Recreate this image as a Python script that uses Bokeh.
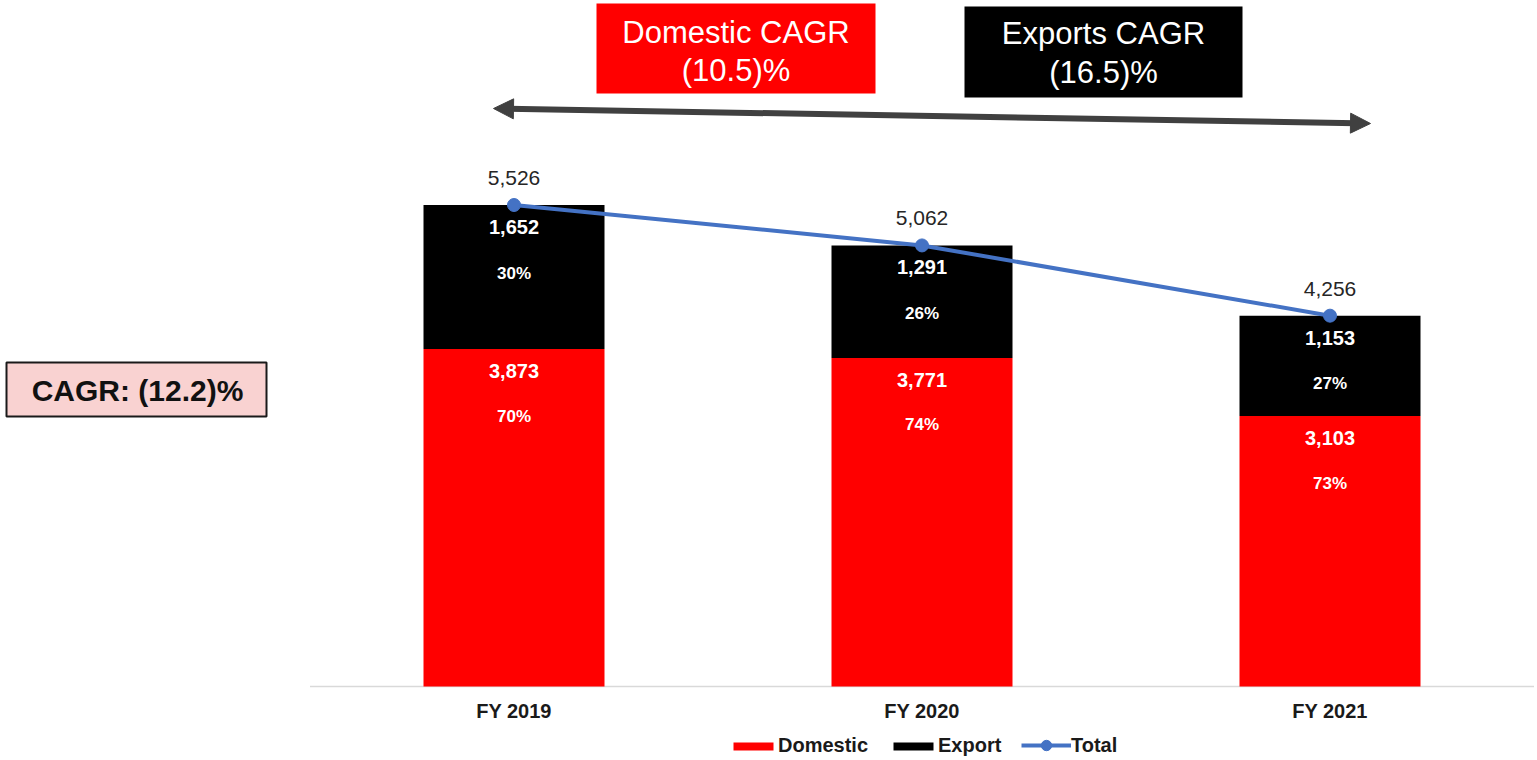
from bokeh.plotting import figure
from bokeh.models import (Range1d, BoxAnnotation, Label, Arrow, NormalHead,
                          Legend, LegendItem, ColumnDataSource)
from bokeh.core.properties import value
from bokeh.embed import file_html
from bokeh.resources import INLINE

# ---------------- data ----------------
categories = ["FY 2019", "FY 2020", "FY 2021"]
domestic = [3873, 3771, 3103]
export = [1652, 1291, 1153]
total = [5526, 5062, 4256]
domestic_pct = ["70%", "74%", "73%"]
export_pct = ["30%", "26%", "27%"]
cagr_total = "CAGR: (12.2)%"
cagr_domestic = ["Domestic CAGR", "(10.5)%"]
cagr_export = ["Exports CAGR", "(16.5)%"]

# ---------------- layout constants ----------------
FONT = "Liberation Sans"
RED = "#FF0000"
BLUE = "#4472C4"
CANVAS_W, CANVAS_H = 1537, 760
BASE_PAGE_Y = 686        # page y of the value 0 baseline
X0_PAGE = 513.5          # page x of first category centre
PX_PER_CAT = 408.0
UPP = 5526 / 481.5       # data units per pixel (vertical)
BAR_W = 181 / PX_PER_CAT


def px_x(page_x):
    return (page_x - X0_PAGE) / PX_PER_CAT


def px_y(page_y):
    return (BASE_PAGE_Y - page_y) * UPP


xs = list(range(len(categories)))
stack_top = [d + e for d, e in zip(domestic, export)]

p = figure(width=CANVAS_W, height=CANVAS_H,
           x_range=Range1d(px_x(0), px_x(CANVAS_W)),
           y_range=Range1d(px_y(CANVAS_H), px_y(0)),
           output_backend="svg", toolbar_location=None, min_border=0,
           x_axis_location=None, y_axis_location=None, outline_line_color=None,
           background_fill_color="white", border_fill_color="white")
p.xgrid.visible = False
p.ygrid.visible = False

# category axis: baseline + labels
p.segment(x0=[xs[0] - 0.5], y0=[0], x1=[xs[-1] + 0.5], y1=[0],
          line_color="#d9d9d9", line_width=1.5)
p.text(x=xs, y=[px_y(710)] * len(xs), text=categories, text_align="center",
       text_baseline="middle", text_font=value(FONT), text_font_size="20px",
       text_font_style="bold", text_color="#1a1a1a")

# ---------------- bars & line ----------------
r_dom = p.vbar(x=xs, top=domestic, width=BAR_W, fill_color=RED, line_color=None)
r_exp = p.vbar(x=xs, bottom=domestic, top=stack_top, width=BAR_W,
               fill_color="black", line_color=None)
r_line = p.line(xs, total, line_color=BLUE, line_width=4)
r_pts = p.scatter(xs, total, size=13, fill_color=BLUE, line_color=BLUE)

# ---------------- data labels ----------------
def add_text(ys, texts, size, color, style):
    src = ColumnDataSource(dict(x=xs, y=ys, t=texts))
    p.text(x="x", y="y", text="t", source=src, text_align="center",
           text_baseline="middle", text_font=value(FONT),
           text_font_size=size, text_font_style=style, text_color=color)

add_text([t + 27 * UPP for t in total], [f"{t:,}" for t in total], "21px", "#262626", "normal")
add_text([s - 22 * UPP for s in stack_top], [f"{e:,}" for e in export], "20px", "white", "bold")
add_text([s - 68 * UPP for s in stack_top], export_pct, "17px", "white", "bold")
add_text([d - 22 * UPP for d in domestic], [f"{d:,}" for d in domestic], "20px", "white", "bold")
add_text([d - 67 * UPP for d in domestic], domestic_pct, "17px", "white", "bold")

# ---------------- annotation boxes ----------------
def box(l, r, t, b, fill, line=None, lw=0):
    p.add_layout(BoxAnnotation(left=px_x(l), right=px_x(r), top=px_y(t), bottom=px_y(b),
                               fill_color=fill, fill_alpha=1.0,
                               line_color=line, line_alpha=1.0, line_width=lw))

def label(x, y, text, size, color, style="normal"):
    p.add_layout(Label(x=px_x(x), y=px_y(y), text=text, text_align="center",
                       text_baseline="middle", text_font=FONT, text_font_size=size,
                       text_color=color, text_font_style=style))

box(596, 875, 3, 93, RED)
box(964, 1242, 6, 97, "black")
box(6, 266, 362, 416, "#F9D2D1", "#1a1a1a", 2)

label(735.5, 32, cagr_domestic[0], "31px", "white")
label(735.5, 70, cagr_domestic[1], "31px", "white")
label(1103, 33, cagr_export[0], "31px", "white")
label(1103, 72, cagr_export[1], "31px", "white")
label(137, 390, cagr_total, "30px", "#111111", "bold")

# ---------------- double arrow ----------------
ARROW_C = "#404040"
p.add_layout(Arrow(x_start=px_x(493), y_start=px_y(108), x_end=px_x(1370), y_end=px_y(123),
                   start=NormalHead(size=20, fill_color=ARROW_C, line_color=ARROW_C),
                   end=NormalHead(size=20, fill_color=ARROW_C, line_color=ARROW_C),
                   line_color=ARROW_C, line_width=6))

# ---------------- legend ----------------
legend_style = dict(orientation="horizontal", label_standoff=0, spacing=20,
                    padding=0, margin=0, border_line_color=None, background_fill_alpha=0,
                    label_text_font=FONT, label_text_font_size="20px",
                    label_text_font_style="bold", label_text_color="#1a1a1a",
                    label_height=20, glyph_width=50)
legend_bars = Legend(items=[LegendItem(label="Domestic", renderers=[r_dom]),
                            LegendItem(label="Export", renderers=[r_exp])],
                     location=(728, 3), glyph_height=10, **legend_style)
legend_total = Legend(items=[LegendItem(label="Total", renderers=[r_line, r_pts])],
                      location=(1021, 2), glyph_height=26, **legend_style)
p.add_layout(legend_bars)
p.add_layout(legend_total)

open("out.html", "w").write(file_html(p, INLINE))
